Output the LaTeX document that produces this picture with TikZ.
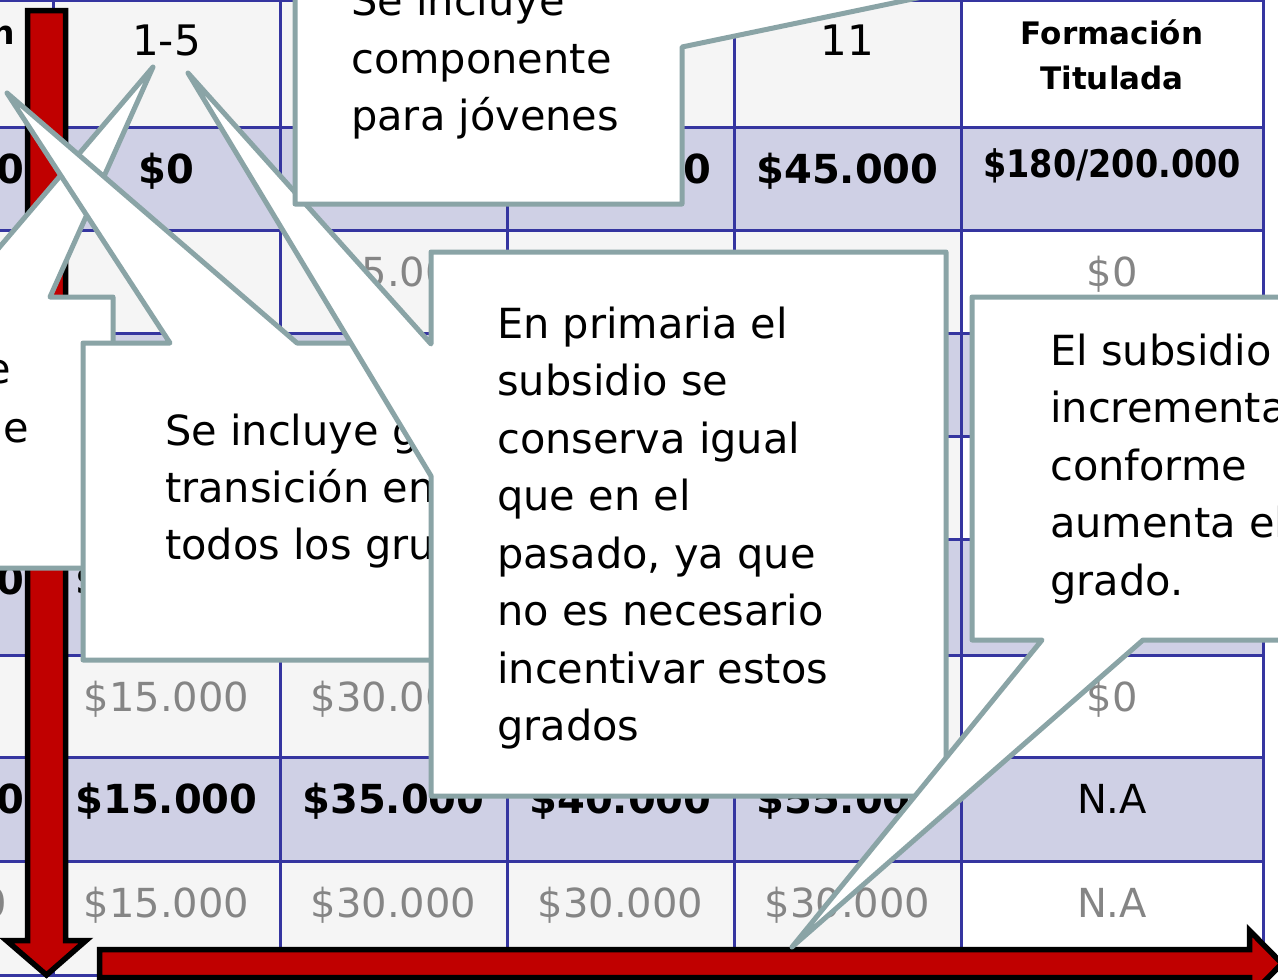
\documentclass[tikz,border=0pt]{standalone}
\usepackage{fontspec}
\setmainfont{DejaVu Sans}
\newfontfamily\narrowfont[FakeStretch=0.88]{DejaVu Sans}
\definecolor{cgray}{HTML}{8AA4A6}
\definecolor{gridblue}{HTML}{3535A0}
\definecolor{rowshade}{HTML}{CFD0E5}
\definecolor{rowlight}{HTML}{F5F5F5}
\definecolor{valgray}{HTML}{858585}
\definecolor{arrred}{HTML}{C00000}
\begin{document}
\begin{tikzpicture}[x=1pt,y=-1pt,
  callout/.style={draw=cgray,line width=5pt,fill=white,line join=round},
  ctext/.style={anchor=base west,inner sep=0pt,font=\fontsize{41.5}{50}\selectfont},
  val/.style={anchor=base,inner sep=0pt,font=\fontsize{40}{48}\selectfont},
  bval/.style={anchor=base,inner sep=0pt,font=\fontsize{40}{48}\selectfont\bfseries},
  gval/.style={val,text=valgray},
  hb/.style={anchor=base,inner sep=0pt,font=\fontsize{31}{36}\selectfont\bfseries},
  gridline/.style={draw=gridblue,line width=3pt},
  redarrow/.style={fill=arrred,draw=black,line width=5.5pt,line join=miter}]
\useasboundingbox (0,0) rectangle (1278,980);
\clip (0,0) rectangle (1278,980);
% ---------- table background ----------
\fill[white] (0,0) rectangle (1278,980);
\foreach \a/\b in {0/127,230/333,436/539,655/757,861/975}
  \fill[rowlight] (-200,\a) rectangle (961,\b);
\foreach \a/\b in {127/230,333/436,539/655,757/861}
  \fill[rowshade] (-200,\a) rectangle (1263,\b);
\foreach \yy in {0,127,230,333,436,539,655,757,861,975}
  \draw[gridline] (-200,\yy) -- (1263,\yy);
\foreach \xx in {53,280,507,734,961,1263}
  \draw[gridline] (\xx,0) -- (\xx,975);
% ---------- table text ----------
% header
\node[hb,anchor=base east,font=\fontsize{33}{40}\selectfont\bfseries] (h0) at (15,44) {n};
\node[val,font=\fontsize{42}{48}\selectfont] (h1) at (166.5,55) {1-5};
\node[val,font=\fontsize{42}{48}\selectfont] (h4) at (847.5,55) {11};
\node[hb] (h5a) at (1112,44) {Formación};
\node[hb] (h5b) at (1112,89) {Titulada};
% row 1
\node[bval,anchor=base east] (r1c0) at (25,183) {0};
\node[bval] (r1c1) at (166.5,183) {\$0};
\node[bval] (r1c3) at (620.5,183) {\$40.000};
\node[bval] (r1c4) at (847.5,183) {\$45.000};
\node[anchor=base,inner sep=0pt,font=\narrowfont\bfseries\fontsize{38}{44}\selectfont] (r1c5) at (1112,177) {\$180/200.000};
% row 2
\node[gval] (r2c2) at (393.5,286) {\$15.000};
\node[gval] (r2c3) at (620.5,283) {\$30.000};
\node[gval] (r2c4) at (847.5,283) {\$30.000};
\node[gval] (r2c5) at (1112,286) {\$0};
% row 5
\node[bval,anchor=base east] (r5c0) at (25,594) {0};
\node[bval] (r5c1) at (166.5,594) {\$15.000};
% row 6
\node[gval] (r6c1) at (166.5,711) {\$15.000};
\node[gval] (r6c2) at (393.5,711) {\$30.000};
\node[gval] (r6c5) at (1112,711) {\$0};
% row 7
\node[bval,anchor=base east] (r7c0) at (25,813) {0};
\node[bval] (r7c1) at (166.5,813) {\$15.000};
\node[bval] (r7c2) at (393.5,813) {\$35.000};
\node[bval] (r7c3) at (620.5,813) {\$40.000};
\node[bval] (r7c4) at (847.5,813) {\$55.000};
\node[val] (r7c5) at (1112,813) {N.A};
% row 8
\node[gval,anchor=base east] (r8c0) at (7,917) {0};
\node[gval] (r8c1) at (166.5,917) {\$15.000};
\node[gval] (r8c2) at (393.5,917) {\$30.000};
\node[gval] (r8c3) at (620.5,917) {\$30.000};
\node[gval] (r8c4) at (847.5,917) {\$30.000};
\node[gval] (r8c5) at (1112,917) {N.A};
% ---------- red arrows ----------
\draw[redarrow] (27.5,10.5) -- (65.5,10.5) -- (65.5,940.5) -- (86,940.5)
  -- (46.5,975) -- (6.5,940.5) -- (27.5,940.5) -- cycle;
\draw[redarrow] (99.5,949.5) -- (1249.5,949.5) -- (1249.5,930.5) -- (1282,963.5)
  -- (1249.5,996.5) -- (1249.5,977.5) -- (99.5,977.5) -- cycle;
% ---------- callout B (left, cut off) ----------
\draw[callout] (-200,297) -- (-43,297) -- (153,67) -- (50,297) -- (113,297)
  -- (113,568) -- (-200,568) -- cycle;
\node[ctext,anchor=base east] (b1) at (11,383) {e};
\node[ctext,anchor=base east] (b2) at (29,442) {le};
% ---------- callout C ----------
\draw[callout] (83,343) -- (170,343) -- (7,93) -- (297,343) -- (600,343)
  -- (600,660) -- (83,660) -- cycle;
\foreach \t [count=\i] in {Se incluye grado, transición en, todos los grupos}
  \node[ctext] (c\i) at (165,{445+57*(\i-1)}) {\t};
% ---------- callout D ----------
\draw[callout] (431,252) -- (946,252) -- (946,796) -- (431,796) -- (431,476)
  -- (188,73) -- (431,344) -- cycle;
\foreach \t [count=\i] in {En primaria el, subsidio se, conserva igual, que en el,
  {pasado, ya que}, no es necesario, incentivar estos, grados}
  \node[ctext] (d\i) at (497,{338+57.5*(\i-1)}) {\t};
% ---------- callout E ----------
\draw[callout] (972,297) -- (1400,297) -- (1400,640) -- (1143,640) -- (792,947)
  -- (1042,640) -- (972,640) -- cycle;
\foreach \t [count=\i] in {El subsidio, incrementa, conforme, aumenta el, grado.}
  \node[ctext] (e\i) at (1050,{365+57.5*(\i-1)}) {\t};
% ---------- callout A (top) ----------
\draw[callout] (295,-80) -- (295,204) -- (682,204) -- (682,47) -- (1100,-40)
  -- (682,-80) -- cycle;
\foreach \t [count=\i] in {Se incluye, componente, para jóvenes}
  \node[ctext] (a\i) at (351,{15.5+57.5*(\i-1)}) {\t};
\end{tikzpicture}
\end{document}
